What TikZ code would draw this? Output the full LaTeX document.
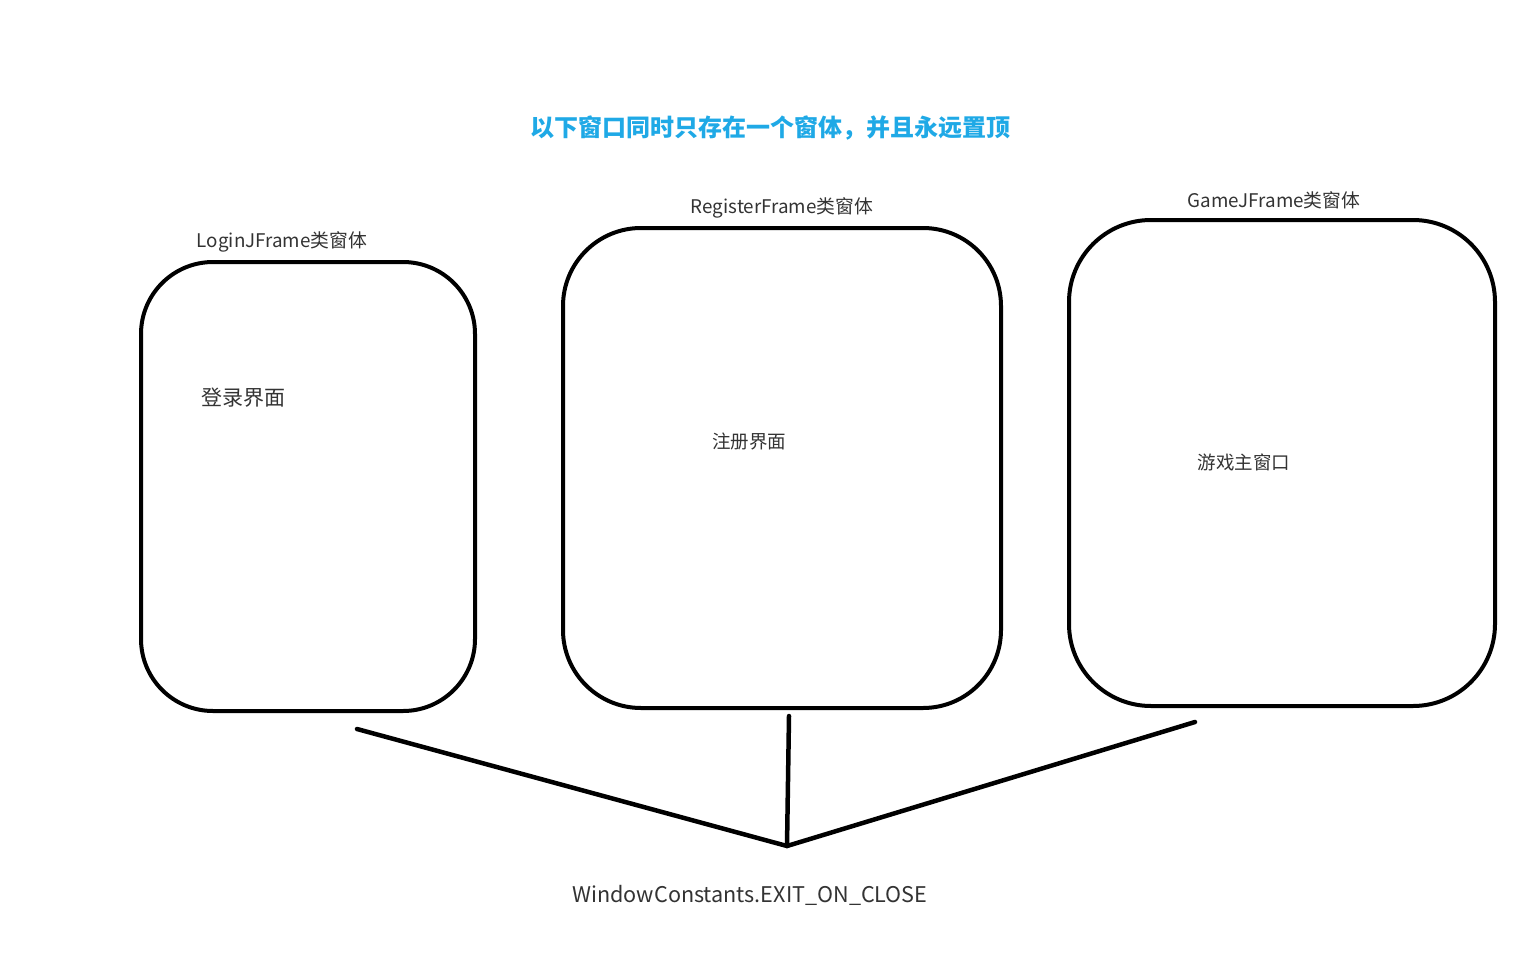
\documentclass[tikz,border=0pt]{standalone}
\usepackage{fontspec}
\setmainfont{Noto Sans CJK SC}
\usepackage{tikz}
\usetikzlibrary{positioning}
\definecolor{titleblue}{HTML}{1FA9E6}
\definecolor{textgray}{HTML}{333333}
\tikzset{
    frame/.style={draw, line width=4pt, inner sep=0pt},
    link/.style={line width=4.5pt, line cap=round},
    caption/.style={text=textgray, inner sep=0pt, font=\fontsize{18.8}{21}\selectfont},
    inside/.style={text=textgray, inner sep=0pt},
    }
\begin{document}
\begin{tikzpicture}[x=1pt,y=-1pt]
            \useasboundingbox (0,0) rectangle (1536,960);
            \node[text=titleblue, inner sep=0pt, font=\fontsize{24}{27}\selectfont\bfseries] (title) at (770,128) {以下窗口同时只存在一个窗体，并且永远置顶};

            \node[frame, rounded corners=72pt, minimum width=334pt, minimum height=449pt] (login) at (308,486.5) {};
            \node[frame, rounded corners=78pt, minimum width=438pt, minimum height=480pt] (register) at (782,468) {};
            \node[frame, rounded corners=82pt, minimum width=426pt, minimum height=486pt] (game) at (1282,463) {};

            \node[caption] (logincap) at (282,242) {LoginJFrame类窗体};
            \node[caption] (registercap) at (782,208) {RegisterFrame类窗体};
            \node[caption] (gamecap) at (1274,200) {GameJFrame类窗体};

            \node[inside, font=\fontsize{21}{24}\selectfont] (logintext) at (243,398) {登录界面};
            \node[inside, font=\fontsize{18.5}{21}\selectfont] (registertext) at (749,441) {注册界面};
            \node[inside, font=\fontsize{18.5}{21}\selectfont] (gametext) at (1244,462) {游戏主窗口};

            \coordinate (join) at (787,846);
            \coordinate (a) at (357,729);
            \coordinate (b) at (789,716);
            \coordinate (c) at (1195,722);
            \node[inside, font=\fontsize{21.6}{24}\selectfont] (exit) at (750,895) {WindowConstants.EXIT\_ON\_CLOSE};

            \draw[link] (a) -- (join);
            \draw[link] (b) -- (join);
            \draw[link] (c) -- (join);
        \end{tikzpicture}
\end{document}
